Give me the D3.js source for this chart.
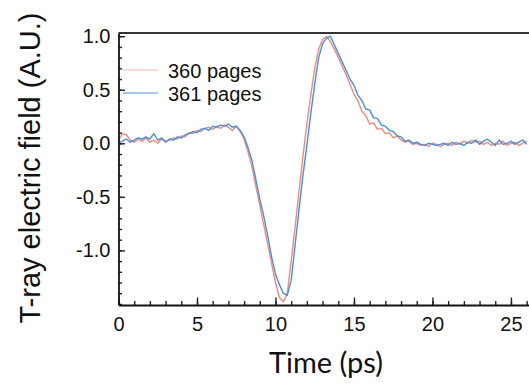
<!DOCTYPE html>
<html lang="en">
<head>
    <meta charset="utf-8"/>
    <title>T-ray pulse</title>
    <script src="https://d3js.org/d3.v7.min.js"></script>
    <style>
        body { margin: 0; background: #fff; }
        svg text { font-family: "Liberation Sans", Arial, sans-serif; fill: #111; }
    </style>
</head>
<body>
<svg width="529" height="385"></svg>

<script type="text/javascript">

    // time samples (ps), step 0.25
    const timePs = d3.range(0, 26.01, 0.25);

    // 360 pages (red)
    const field360 = [
        0.03, 0.09, 0.08, 0.03, 0.01, 0.04, 0.02, 0.05, 0.01, 0.03,
        0.00, 0.04, 0.02, 0.03, 0.05, 0.04, 0.07, 0.06, 0.10, 0.09,
        0.12, 0.11, 0.14, 0.15, 0.13, 0.16, 0.14, 0.17, 0.15, 0.12,
        0.16, 0.11, 0.04, -0.08, -0.22, -0.40, -0.58, -0.76, -0.94, -1.12,
        -1.30, -1.44, -1.48, -1.40, -1.10, -0.78, -0.45, -0.12, 0.18, 0.45,
        0.70, 0.88, 0.97, 1.00, 0.95, 0.88, 0.80, 0.72, 0.64, 0.55,
        0.46, 0.40, 0.30, 0.26, 0.18, 0.19, 0.13, 0.14, 0.09, 0.10,
        0.05, 0.07, 0.03, 0.01, 0.02, -0.01, 0.00, -0.02, -0.01, -0.03,
        0.00, -0.01, -0.03, -0.01, 0.00, -0.02, 0.01, -0.01, 0.02, 0.00,
        0.03, 0.01, 0.02, -0.01, 0.01, -0.02, 0.00, -0.01, 0.02, -0.02,
        0.00, 0.01, -0.02, 0.00, 0.02
    ];

    // 361 pages (blue)
    const field361 = [
        0.00, 0.02, 0.04, 0.01, 0.03, 0.05, 0.04, 0.06, 0.04, 0.09,
        0.03, 0.05, 0.01, 0.04, 0.03, 0.06, 0.05, 0.08, 0.09, 0.11,
        0.10, 0.13, 0.14, 0.12, 0.16, 0.15, 0.17, 0.16, 0.18, 0.15,
        0.16, 0.12, 0.06, -0.04, -0.16, -0.34, -0.52, -0.68, -0.86, -1.06,
        -1.22, -1.32, -1.40, -1.42, -1.28, -0.95, -0.62, -0.30, -0.02, 0.28,
        0.55, 0.80, 0.93, 0.98, 1.00, 0.92, 0.84, 0.76, 0.68, 0.60,
        0.54, 0.45, 0.40, 0.32, 0.31, 0.24, 0.23, 0.17, 0.16, 0.12,
        0.11, 0.07, 0.06, 0.02, 0.03, 0.00, 0.01, -0.01, -0.02, 0.00,
        -0.01, -0.02, -0.01, 0.00, -0.02, 0.01, -0.01, 0.00, -0.02, 0.01,
        0.00, 0.03, -0.01, 0.02, 0.04, 0.01, -0.02, 0.03, -0.01, 0.00,
        0.02, -0.01, 0.01, 0.03, -0.01
    ];

    const xTicks = [0, 5, 10, 15, 20, 25];
    const yTicks = [-1.0, -0.5, 0.0, 0.5, 1.0];
    const legendLabels = ["360 pages", "361 pages"];
    const colors = ["#f2897e", "#4a8fdb"];

    const svg = d3.select("svg");

    let xScale = d3.scaleLinear().domain([0, 26.15]).range([118.5, 529]);
    let yScale = d3.scaleLinear().domain([-1.51, 1.03]).range([305, 33]);

    // series
    const series = [field360, field361];
    let line = d3.line()
        .x((d, i) => xScale(timePs[i]))
        .y(d => yScale(d));

    series.forEach(function (s, k) {
        svg.append("path")
            .attr("d", line(s))
            .attr("fill", "none")
            .attr("stroke", colors[k])
            .attr("stroke-width", 1.4)
            .attr("stroke-linejoin", "round");
    });

    // minor ticks (inward)
    svg.append("g")
        .attr("transform", "translate(0,305)")
        .call(d3.axisBottom(xScale).tickValues(d3.range(0, 27, 1)).tickSizeInner(-4).tickSizeOuter(0).tickFormat(""))
        .call(g => g.select(".domain").remove());
    svg.append("g")
        .attr("transform", "translate(118.5,0)")
        .call(d3.axisLeft(yScale).tickValues(d3.range(-15, 11, 1).map(v => v / 10)).tickSizeInner(-3.5).tickSizeOuter(0).tickFormat(""))
        .call(g => g.select(".domain").remove());

    // major axes (plain hyphen for negatives, like the original)
    const fmtY = d => d.toFixed(1);
    let xAxis = svg.append("g")
        .attr("transform", "translate(0,305)")
        .call(d3.axisBottom(xScale).tickValues(xTicks).tickSizeInner(-7.5).tickSizeOuter(0).tickPadding(12).tickFormat(d3.format("d")));
    let yAxis = svg.append("g")
        .attr("transform", "translate(118.5,0)")
        .call(d3.axisLeft(yScale).tickValues(yTicks).tickSizeInner(-6.5).tickSizeOuter(0).tickPadding(8).tickFormat(fmtY));

    svg.selectAll(".tick line").attr("stroke", "#222").attr("stroke-width", 1.4);
    svg.selectAll(".domain").attr("stroke", "#111").attr("stroke-width", 1.8);
    svg.selectAll(".tick text")
        .style("font-family", "'Liberation Sans', Arial, sans-serif")
        .style("font-size", "20px")
        .attr("fill", "#111");

    // top frame line
    svg.append("line")
        .attr("x1", xScale.range()[0]).attr("x2", xScale.range()[1])
        .attr("y1", yScale.range()[1]).attr("y2", yScale.range()[1])
        .attr("stroke", "#333")
        .attr("stroke-width", 2);

    // legend
    legendLabels.forEach(function (lab, k) {
        let y = 70 + k * 23;
        svg.append("line")
            .attr("x1", 123).attr("x2", 158)
            .attr("y1", y).attr("y2", y)
            .attr("stroke", colors[k])
            .attr("stroke-opacity", k === 0 ? 0.6 : 1)
            .attr("stroke-width", 1.2);
        svg.append("text")
            .attr("x", 168).attr("y", y + 7.5)
            .style("font-size", "20px")
            .text(lab);
    });

    // axis titles
    svg.append("text")
        .attr("x", 326).attr("y", 373)
        .attr("text-anchor", "middle")
        .style("font-family", "Lato, sans-serif")
        .style("font-size", "29px")
        .text("Time (ps)");

    svg.append("text")
        .attr("transform", "translate(40,168) rotate(-90)")
        .attr("text-anchor", "middle")
        .style("font-size", "29px")
        .text("T-ray electric field (A.U.)");

</script>
</body>
</html>
